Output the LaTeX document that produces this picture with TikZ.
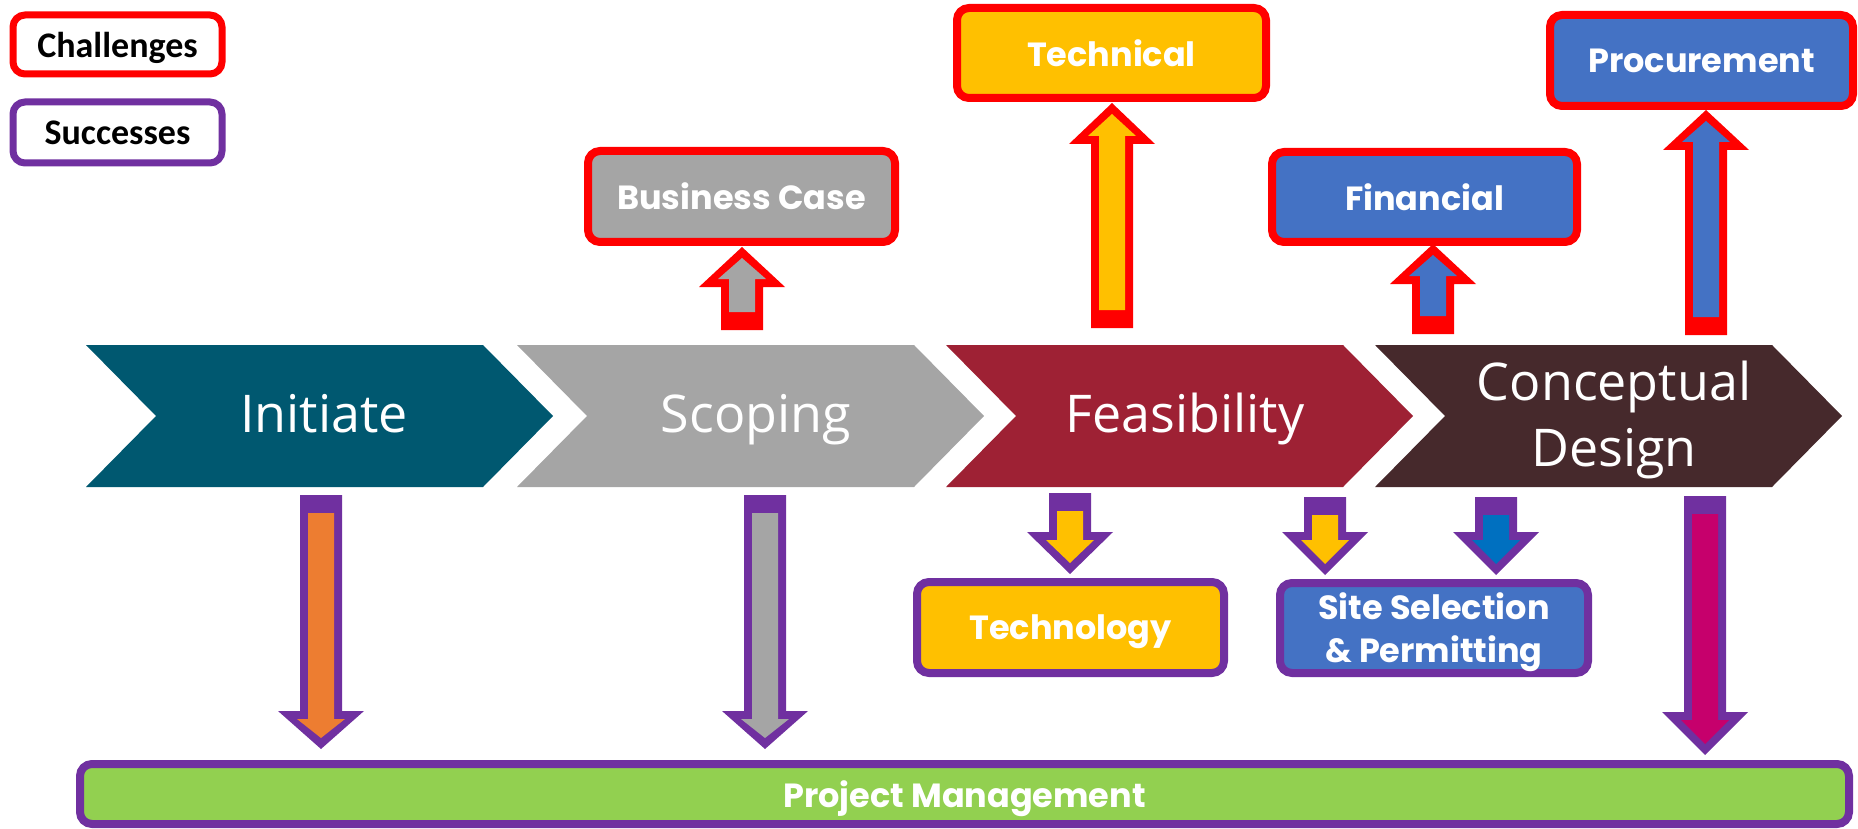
\documentclass[tikz,border=0pt]{standalone}
\usepackage{fontspec}
\setmainfont{Open Sans}
\newfontfamily\gothic{Poppins}
\newfontfamily\calib{Carlito}
\definecolor{cred}{HTML}{FF0000}
\definecolor{cpurple}{HTML}{7030A0}
\definecolor{cteal}{RGB}{0,88,112}
\definecolor{cgrey}{HTML}{A5A5A5}
\definecolor{cwine}{RGB}{158,33,52}
\definecolor{cbrown}{RGB}{70,41,44}
\definecolor{cyellow}{HTML}{FFC000}
\definecolor{cblue}{HTML}{4472C4}
\definecolor{cdblue}{HTML}{0070C0}
\definecolor{cgreen}{HTML}{92D050}
\definecolor{corange}{HTML}{ED7D31}
\definecolor{cmagenta}{RGB}{198,0,108}
% block arrow pointing up: #1 cx, #2 tip y, #3 head base y, #4 bottom y, #5 fill, #6 border
\newcommand{\blkup}[6]{%
  \fill[#6] (#1,#2) -- (#1+43,#3) -- (#1+21,#3) -- (#1+21,#4) -- (#1-21,#4) -- (#1-21,#3) -- (#1-43,#3) -- cycle;
  \fill[#5] (#1,#2+11) -- (#1+24,#3-8) -- (#1+13,#3-8) -- (#1+13,#4-18) -- (#1-13,#4-18) -- (#1-13,#3-8) -- (#1-24,#3-8) -- cycle;}
% block arrow pointing down: #1 cx, #2 top y, #3 head base y, #4 tip y, #5 fill, #6 border
\newcommand{\blkdown}[6]{%
  \fill[#6] (#1-21,#2) -- (#1+21,#2) -- (#1+21,#3) -- (#1+43,#3) -- (#1,#4) -- (#1-43,#3) -- (#1-21,#3) -- cycle;
  \fill[#5] (#1-13,#2+18) -- (#1+13,#2+18) -- (#1+13,#3+8) -- (#1+24,#3+8) -- (#1,#4-11) -- (#1-24,#3+8) -- (#1-13,#3+8) -- cycle;}
% chevron: #1 left x, #2 colour
\newcommand{\chev}[2]{%
  \fill[#2] (#1,345) -- (#1+397,345) -- (#1+467,416) -- (#1+397,487) -- (#1,487) -- (#1+70,416) -- cycle;}
\begin{document}
\begin{tikzpicture}[x=1pt,y=-1pt,
  box/.style={rounded corners=12pt, line width=8pt, inner sep=0pt, text=white, text depth=0pt,
    font=\gothic\bfseries\fontsize{33.5}{43}\selectfont, align=center},
  chal/.style={box, draw=cred},
  succ/.style={box, draw=cpurple},
  legend/.style={rounded corners=12pt, line width=7pt, inner sep=0pt, fill=white, text depth=0pt,
    font=\calib\bfseries\fontsize{36}{42}\selectfont, text=black,
    minimum width=209pt},
  phase/.style={text=white, font=\fontsize{52}{66}\selectfont, align=center, inner sep=0pt}]
\useasboundingbox (0,0) rectangle (1858,829);

% legend
\node[legend, draw=cred, minimum height=59pt] (chl) at (117.5,44.5) {Challenges};
\node[legend, draw=cpurple, minimum height=61pt] (suc) at (117.5,132.5) {Successes};

% chevrons
\chev{86}{cteal}
\chev{517}{cgrey}
\chev{946}{cwine}
\chev{1375}{cbrown}
\node[phase, anchor=base] (ini) at (324,432) {Initiate};
\node[phase, anchor=base] (sco) at (756,432) {Scoping};
\node[phase, anchor=base] (fea) at (1185,432) {Feasibility};
\node[phase] (con) at (1614,420) {Conceptual\\Design};

% up arrows (challenges)
\blkup{742}{247}{287}{330}{cgrey}{cred}
\blkup{1112}{103}{144}{328}{cyellow}{cred}
\blkup{1433}{244}{284}{334}{cblue}{cred}
\blkup{1706}{110}{150}{335}{cblue}{cred}

% down arrows (successes)
\blkdown{321}{495}{711}{749}{corange}{cpurple}
\blkdown{765}{495}{711}{749}{cgrey}{cpurple}
\blkdown{1070}{493}{532}{574}{cyellow}{cpurple}
\blkdown{1325}{497}{532}{575}{cyellow}{cpurple}
\blkdown{1496}{497}{532}{575}{cdblue}{cpurple}
\blkdown{1705}{496}{712}{755}{cmagenta}{cpurple}

% challenge boxes
\node[chal, fill=cgrey, minimum width=307pt, minimum height=91pt] (bus) at (741.5,196.5) {Business Case};
\node[chal, fill=cyellow, minimum width=309pt, minimum height=90pt] (tec) at (1111.5,53) {Technical};
\node[chal, fill=cblue, minimum width=305pt, minimum height=90pt] (fin) at (1424.5,197) {Financial};
\node[chal, fill=cblue, minimum width=303pt, minimum height=91pt] (pro) at (1701.5,60.5) {Procurement};

% success boxes
\node[succ, fill=cyellow, minimum width=307pt, minimum height=91pt] (tgy) at (1070.5,627.5) {Technology};
\node[succ, fill=cblue, minimum width=308pt, minimum height=90pt] (sit) at (1434,628) {Site Selection\\\& Permitting};
\node[succ, fill=cgreen, minimum width=1769pt, minimum height=60pt] (pm) at (964.5,794) {Project Management};
\end{tikzpicture}
\end{document}
